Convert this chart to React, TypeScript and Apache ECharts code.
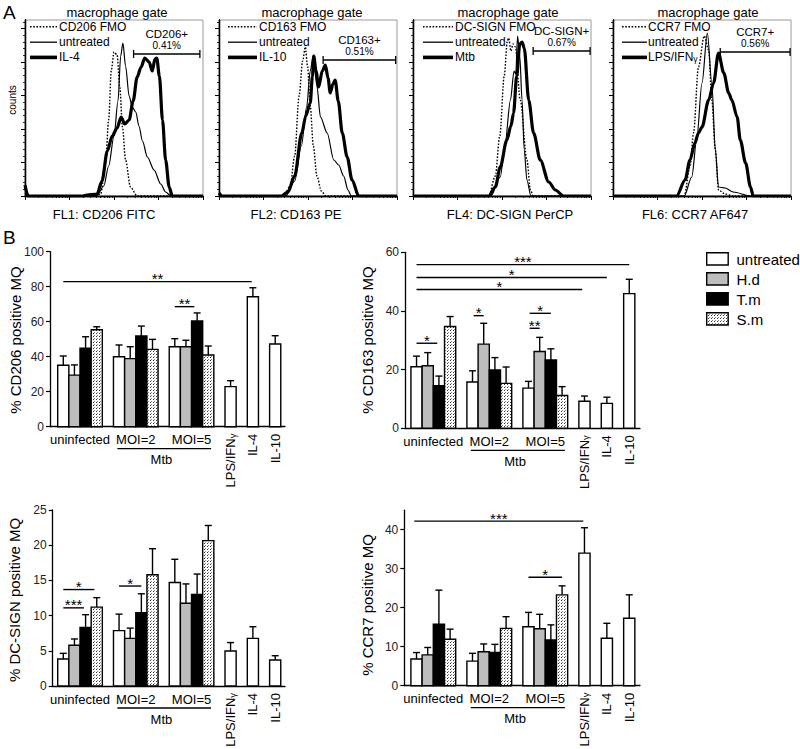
import React, { useEffect, useRef } from 'react';
import * as echarts from 'echarts';

const FONT = '"Liberation Sans", Arial, Helvetica, sans-serif';

// ---------------- Panel A : histograms ----------------
const histTitle = 'macrophage gate';
const histAxisNames = ['FL1: CD206 FITC', 'FL2: CD163 PE', 'FL4: DC-SIGN PerCP', 'FL6: CCR7 AF647'];
const histLegendNames = [
  ['CD206 FMO', 'untreated', 'IL-4'],
  ['CD163 FMO', 'untreated', 'IL-10'],
  ['DC-SIGN FMO', 'untreated', 'Mtb'],
  ['CCR7 FMO', 'untreated', 'LPS/IFNγ'],
];
const gateNames = ['CD206+', 'CD163+', 'DC-SIGN+', 'CCR7+'];
const gatePercents = ['0.41%', '0.51%', '0.67%', '0.56%'];
const gateStart = [2.44, 2.34, 2.7, 2.41];
const gateEnd = [3.93, 3.97, 3.98, 3.98];
const gateHeight = [142, 136, 145, 144];

// curves: [log decade, count]
const fmoCurves = [
  [[0, 0], [1.6, 0], [1.7, 2], [1.81, 32], [1.88, 76], [1.94, 126], [2.0, 144], [2.07, 141], [2.13, 109], [2.19, 69], [2.26, 36], [2.37, 9], [2.52, 0], [4, 0]],
  [[0, 0], [1.45, 0], [1.6, 10], [1.7, 40], [1.8, 100], [1.88, 135], [1.94, 149], [1.99, 130], [2.05, 90], [2.12, 50], [2.2, 20], [2.3, 5], [2.4, 0], [4, 0]],
  [[0, 0], [1.7, 0], [1.85, 20], [1.95, 60], [2.05, 120], [2.12, 155], [2.15, 158], [2.2, 145], [2.25, 152], [2.3, 149], [2.41, 96], [2.56, 36], [2.64, 6], [2.7, 0], [4, 0]],
  [[0, 0], [1.6, 0], [1.73, 29], [1.81, 63], [1.92, 129], [2.05, 160], [2.15, 146], [2.22, 96], [2.3, 46], [2.37, 6], [2.52, 2], [2.7, 0], [4, 0]],
];
const untreatedCurves = [
  [[0, 3], [0.08, 0], [1.45, 0], [1.62, 1], [1.77, 10], [1.88, 30], [2.0, 60], [2.09, 95], [2.15, 140], [2.2, 153], [2.26, 130], [2.34, 100], [2.41, 89], [2.49, 84], [2.56, 70], [2.64, 55], [2.75, 39], [2.9, 26], [3.05, 12], [3.16, 4], [3.28, 0], [4, 0]],
  [[0, 2], [0.07, 0], [1.5, 0], [1.7, 15], [1.85, 50], [1.97, 89], [2.05, 125], [2.12, 141], [2.2, 110], [2.28, 79], [2.43, 63], [2.58, 36], [2.69, 31], [2.8, 20], [2.9, 6], [2.97, 0], [4, 0]],
  [[0, 0], [1.75, 0], [1.96, 19], [2.07, 53], [2.19, 96], [2.27, 125], [2.31, 122], [2.35, 160], [2.4, 140], [2.45, 96], [2.5, 46], [2.56, 16], [2.65, 0], [4, 0]],
  [[0, 0], [1.6, 0], [1.77, 19], [1.88, 56], [2.0, 113], [2.12, 163], [2.22, 113], [2.3, 46], [2.37, 9], [2.52, 8], [2.7, 4], [3.09, 0], [4, 0]],
];
const stimCurves = [
  [[0, 11], [0.07, 0], [1.3, 0], [1.39, 1], [1.62, 2], [1.73, 15], [1.85, 45], [1.96, 60], [2.07, 68], [2.16, 79], [2.24, 72], [2.34, 76], [2.43, 95], [2.52, 119], [2.61, 129], [2.69, 138], [2.79, 134], [2.86, 125], [2.92, 137], [2.96, 138], [3.02, 120], [3.09, 76], [3.16, 36], [3.24, 9], [3.31, 0], [4, 0]],
  [[0, 3], [0.07, 0], [1.4, 0], [1.55, 4], [1.7, 20], [1.86, 63], [1.95, 80], [2.05, 93], [2.1, 120], [2.13, 140], [2.18, 125], [2.24, 109], [2.32, 125], [2.39, 131], [2.45, 118], [2.5, 103], [2.56, 112], [2.61, 116], [2.68, 95], [2.77, 63], [2.88, 39], [2.99, 16], [3.14, 0], [4, 0]],
  [[0, 0], [1.7, 0], [1.85, 9], [1.96, 29], [2.11, 56], [2.2, 70], [2.26, 83], [2.33, 120], [2.4, 152], [2.45, 154], [2.5, 148], [2.6, 96], [2.71, 63], [2.86, 36], [3.05, 14], [3.2, 6], [3.38, 0], [4, 0]],
  [[0, 0], [1.43, 0], [1.62, 16], [1.73, 36], [1.84, 53], [1.92, 63], [2.0, 69], [2.15, 96], [2.26, 113], [2.37, 143], [2.49, 123], [2.6, 103], [2.67, 96], [2.79, 79], [2.86, 56], [2.98, 33], [3.09, 9], [3.15, 0], [4, 0]],
];
const histYMajor = [0, 33.5, 67, 100.5, 134, 167.5];
const histXMajor = [0, 1, 2, 3, 4];

// ---------------- Panel B : bar charts ----------------
const groupNames = ['untreated', 'H.d', 'T.m', 'S.m'];
const barSlots = [0, 1, 2, 3, 5, 6, 7, 8, 10, 11, 12, 13, 15, 17, 19];
const barGroups = [0, 1, 2, 3, 0, 1, 2, 3, 0, 1, 2, 3, 0, 0, 0];
const conditionLabels = ['uninfected', 'MOI=2', 'MOI=5'];
const conditionSlots = [1.5, 6.5, 11.5];
const stimLabels = ['LPS/IFNγ', 'IL-4', 'IL-10'];
const stimSlots = [15, 17, 19];
const mtbLabel = 'Mtb';
const mtbSpan = [4.85, 13.25];
const mtbCenter = 8.8;

const cd206Means = [35.1, 29.5, 44.8, 55.4, 40.0, 38.9, 51.8, 44.2, 45.7, 45.7, 60.4, 41.0, 22.9, 74.3, 47.3];
const cd206Sem = [5.3, 5.8, 6.6, 1.7, 6.7, 6.8, 5.7, 5.7, 4.6, 3.7, 4.6, 5.1, 3.4, 5.1, 4.7];
const cd206Sig = [[0, 16.9, 82.9, '**'], [10, 11.75, 68.6, '**']];

const cd163Means = [21.0, 21.3, 14.5, 34.7, 15.8, 28.7, 19.9, 15.3, 13.7, 26.2, 23.3, 11.2, 9.2, 8.5, 45.9];
const cd163Sem = [3.6, 4.5, 3.3, 3.4, 3.8, 7.1, 4.2, 5.6, 2.3, 4.8, 3.8, 3.0, 1.8, 2.1, 4.9];
const cd163Sig = [[0, 19, 55.8, '***'], [0, 17, 51.4, '*'], [0, 14.8, 47.3, '*'], [0, 1.85, 29.0, '*'], [5.1, 6.0, 38.4, '*'], [10.1, 11.0, 34.1, '**'], [10.1, 12.0, 39.2, '*']];

const dcMeans = [3.84, 5.78, 8.33, 11.2, 7.86, 6.77, 10.4, 15.8, 14.7, 11.75, 13.0, 20.65, 4.97, 6.77, 3.7];
const dcSem = [0.8, 0.9, 1.8, 1.35, 2.35, 1.45, 2.7, 3.7, 3.3, 2.75, 2.9, 2.15, 1.2, 1.65, 0.6];
const dcSig = [[0, 2.78, 13.7, '*'], [0, 1.85, 11.1, '***'], [5, 7, 14.2, '*']];

const ccr7Means = [6.85, 7.9, 15.8, 11.9, 6.3, 8.7, 8.5, 14.7, 15.1, 14.6, 11.7, 23.3, 34.0, 12.15, 17.3];
const ccr7Sem = [1.65, 1.9, 8.7, 2.6, 2.0, 2.0, 2.1, 3.0, 3.7, 3.7, 3.9, 2.3, 6.5, 3.85, 6.0];
const ccr7Sig = [[-0.2, 14.9, 42.2, '***'], [10, 13, 27.8, '*']];

const cd206Ticks = [0, 20, 40, 60, 80, 100];
const cd163Ticks = [0, 20, 40, 60];
const dcTicks = [0, 5, 10, 15, 20, 25];
const ccr7Ticks = [0, 10, 20, 30, 40];

// ---------------- layout ----------------
const HIST_LEFT = [25, 219, 413, 613];
const HIST_TOP = 20;
const HIST_W = 178;
const HIST_H = 176;
const HIST_TITLE_X = [117, 312, 508, 708];
const HIST_NAME_X = [104, 296, 510, 695];
const HIST_LEG = [
  [30, 57, 59],
  [228, 257, 259],
  [423, 453, 455],
  [622, 647, 648],
];

const barPanels = [
  { means: cd206Means, sem: cd206Sem, sig: cd206Sig, ticks: cd206Ticks, yMax: 100, left: 50, top: 251.7, width: 235, height: 175, xMin: -1.19, xMax: 19.88, title: '% CD206 positive MQ', tx: 15, ty: 340 },
  { means: cd163Means, sem: cd163Sem, sig: cd163Sig, ticks: cd163Ticks, yMax: 60, left: 405, top: 252.3, width: 235, height: 176, xMin: -1.03, xMax: 19.96, title: '% CD163 positive MQ', tx: 367, ty: 340 },
  { means: dcMeans, sem: dcSem, sig: dcSig, ticks: dcTicks, yMax: 25, left: 52.7, top: 510, width: 232.3, height: 176, xMin: -0.95, xMax: 19.88, title: '% DC-SIGN positive MQ', tx: 14, ty: 600 },
  { means: ccr7Means, sem: ccr7Sem, sig: ccr7Sig, ticks: ccr7Ticks, yMax: 45, left: 404.3, top: 510.2, width: 235.7, height: 175.5, xMin: -1.09, xMax: 19.96, title: '% CCR7 positive MQ', tx: 367, ty: 605 },
];

function makeDotPattern(): any {
  const c = document.createElement('canvas');
  c.width = 3;
  c.height = 3;
  const ctx = c.getContext('2d')!;
  ctx.fillStyle = '#ffffff';
  ctx.fillRect(0, 0, 3, 3);
  ctx.fillStyle = '#333333';
  ctx.fillRect(0, 0, 1, 1);
  ctx.fillStyle = '#888888';
  ctx.fillRect(1, 2, 1, 1);
  return { image: c, repeat: 'repeat', imageWidth: 3, imageHeight: 3 };
}

function txt(x: number, y: number, text: string, size: number, align = 'center', vAlign = 'middle', rotation = 0, rich?: any) {
  return {
    type: 'text',
    x,
    y,
    rotation,
    silent: true,
    style: {
      text,
      font: `${size}px ${FONT}`,
      fill: '#000',
      align,
      verticalAlign: vAlign,
      textAlign: align,
      textVerticalAlign: vAlign,
      rich,
    },
  };
}

const gammaRich = (size: number) => ({ g: { fontSize: size * 0.72, fontFamily: FONT, padding: [4, 0, 0, 0] } });
const withGamma = (s: string) => s.replace('γ', '{g|γ}');

function buildOption() {
  const dots = makeDotPattern();
  const fills: any[] = ['#ffffff', '#bdbdbd', '#000000', dots];

  const grid: any[] = [];
  const xAxis: any[] = [];
  const yAxis: any[] = [];
  const series: any[] = [];
  const graphics: any[] = [];

  const minorX: number[] = [];
  for (let d = 0; d < 4; d++) for (let m = 2; m <= 9; m++) minorX.push(d + Math.log10(m));
  const minorY: number[] = [];
  for (let k = 0; k < histYMajor.length; k++) for (let m = 1; m <= 4; m++) {
    const v = histYMajor[k] + m * 6.7;
    if (v < HIST_H) minorY.push(v);
  }

  const axisLine = { show: true, onZero: false, lineStyle: { color: '#000', width: 1.3 } };

  for (let i = 0; i < 4; i++) {
    grid.push({ left: HIST_LEFT[i], top: HIST_TOP, width: HIST_W, height: HIST_H, show: true, borderColor: '#9a9a9a', borderWidth: 1 });
    xAxis.push({ type: 'value', gridIndex: i, min: 0, max: 4, position: 'bottom', axisLine, axisTick: { show: true, length: 4, customValues: histXMajor, lineStyle: { color: '#000', width: 1 } }, axisLabel: { show: false }, splitLine: { show: false } });
    xAxis.push({ type: 'value', gridIndex: i, min: 0, max: 4, position: 'bottom', axisLine, axisTick: { show: true, length: 2, customValues: minorX, lineStyle: { color: '#000', width: 0.8 } }, axisLabel: { show: false }, splitLine: { show: false } });
    yAxis.push({ type: 'value', gridIndex: i, min: 0, max: HIST_H, position: 'left', axisLine, axisTick: { show: true, length: 4, customValues: histYMajor, lineStyle: { color: '#000', width: 1 } }, axisLabel: { show: false }, splitLine: { show: false } });
    yAxis.push({ type: 'value', gridIndex: i, min: 0, max: HIST_H, position: 'left', axisLine, axisTick: { show: true, length: 2, customValues: minorY, lineStyle: { color: '#000', width: 0.8 } }, axisLabel: { show: false }, splitLine: { show: false } });

    const common = { type: 'line', xAxisIndex: 2 * i, yAxisIndex: 2 * i, showSymbol: false, symbol: 'none', smooth: 0.3, smoothMonotone: 'x', silent: true };
    series.push({ ...common, data: fmoCurves[i], lineStyle: { color: '#000', width: 1.4, type: [1.6, 1.6] } });
    series.push({ ...common, data: untreatedCurves[i], lineStyle: { color: '#000', width: 1.2 } });
    series.push({ ...common, data: stimCurves[i], lineStyle: { color: '#000', width: 3.2 } });

    series.push({
      type: 'custom', xAxisIndex: 2 * i, yAxisIndex: 2 * i, clip: false, silent: true,
      data: [[gateStart[i], gateEnd[i], gateHeight[i]]],
      renderItem: (params: any, api: any) => {
        const a = api.coord([api.value(0), api.value(2)]);
        const b = api.coord([api.value(1), api.value(2)]);
        const mid = (a[0] + b[0]) / 2;
        const ls = { stroke: '#000', lineWidth: 1.3 };
        return {
          type: 'group',
          children: [
            { type: 'line', shape: { x1: a[0], y1: a[1], x2: b[0], y2: b[1] }, style: ls },
            { type: 'line', shape: { x1: a[0], y1: a[1] - 4, x2: a[0], y2: a[1] + 4 }, style: ls },
            { type: 'line', shape: { x1: b[0], y1: b[1] - 4, x2: b[0], y2: b[1] + 4 }, style: ls },
            txt(mid, a[1] - 20, gateNames[i], 11.5),
            txt(mid, a[1] - 8.5, gatePercents[i], 10),
          ],
        };
      },
    });

    graphics.push(txt(HIST_TITLE_X[i], 12, histTitle, 13));
    graphics.push(txt(HIST_NAME_X[i], 214, histAxisNames[i], 13));
    const rowsY = [26.7, 42.2, 57.4];
    const widths = [1.5, 1.3, 3.6];
    for (let r = 0; r < 3; r++) {
      const [x1, x2, tx] = HIST_LEG[i];
      graphics.push({ type: 'line', silent: true, shape: { x1, y1: rowsY[r], x2, y2: rowsY[r] }, style: { stroke: '#000', lineWidth: widths[r], lineDash: r === 0 ? [1.6, 1.6] : null } });
      graphics.push(txt(tx, rowsY[r], withGamma(histLegendNames[i][r]), 12, 'left', 'middle', 0, gammaRich(12)));
    }
  }

  graphics.push(txt(3, 12, 'A', 19, 'left'));
  graphics.push(txt(3, 237, 'B', 19, 'left'));
  graphics.push(txt(12, 100, 'counts', 10, 'center', 'middle', Math.PI / 2));

  barPanels.forEach((p, j) => {
    const gi = 4 + j;
    const ai = 8 + j;
    grid.push({ left: p.left, top: p.top, width: p.width, height: p.height, show: false });
    xAxis.push({ type: 'value', gridIndex: gi, min: p.xMin, max: p.xMax, axisLine, axisTick: { show: false }, axisLabel: { show: false }, splitLine: { show: false } });
    yAxis.push({
      type: 'value', gridIndex: gi, min: 0, max: p.yMax, axisLine,
      axisTick: { show: true, length: 4, customValues: p.ticks, lineStyle: { color: '#000', width: 1.2 } },
      axisLabel: { show: true, customValues: p.ticks, fontSize: 12, fontFamily: FONT, color: '#222', margin: 6 },
      splitLine: { show: false },
    });

    series.push({
      type: 'custom', xAxisIndex: ai, yAxisIndex: ai, clip: false, silent: true,
      data: barSlots.map((s, i) => [s, p.means[i], p.sem[i], barGroups[i]]),
      renderItem: (params: any, api: any) => {
        const s = api.value(0), m = api.value(1), e = api.value(2), g = api.value(3);
        const tl = api.coord([s - 0.5, m]);
        const br = api.coord([s + 0.5, 0]);
        const c = api.coord([s, m]);
        const t = api.coord([s, m + e]);
        const ls = { stroke: '#000', lineWidth: 1.4 };
        return {
          type: 'group',
          children: [
            { type: 'line', shape: { x1: c[0], y1: c[1], x2: t[0], y2: t[1] }, style: ls },
            { type: 'line', shape: { x1: t[0] - 3.5, y1: t[1], x2: t[0] + 3.5, y2: t[1] }, style: ls },
            { type: 'rect', shape: { x: tl[0], y: tl[1], width: br[0] - tl[0], height: br[1] - tl[1] }, style: { fill: fills[g], stroke: '#000', lineWidth: 1.4 } },
          ],
        };
      },
    });

    series.push({
      type: 'custom', xAxisIndex: ai, yAxisIndex: ai, clip: false, silent: true,
      data: p.sig.map((s: any) => [s[0], s[2]]),
      renderItem: (params: any, api: any) => {
        const s: any = p.sig[params.dataIndex];
        const a = api.coord([s[0], s[2]]);
        const b = api.coord([s[1], s[2]]);
        return {
          type: 'group',
          children: [
            { type: 'line', shape: { x1: a[0], y1: a[1], x2: b[0], y2: b[1] }, style: { stroke: '#000', lineWidth: 1.4 } },
            txt((a[0] + b[0]) / 2, a[1] - 3, s[3], 15),
          ],
        };
      },
    });

    const labelItems: any[] = [];
    conditionLabels.forEach((l, k) => labelItems.push({ kind: 'g', slot: conditionSlots[k], text: l }));
    stimLabels.forEach((l, k) => labelItems.push({ kind: 'r', slot: stimSlots[k], text: l }));
    labelItems.push({ kind: 'l', slot: mtbSpan[0], slot2: mtbSpan[1], text: '' });
    labelItems.push({ kind: 'g2', slot: mtbCenter, text: mtbLabel });

    series.push({
      type: 'custom', xAxisIndex: ai, yAxisIndex: ai, clip: false, silent: true,
      data: labelItems.map((it) => [it.slot, 0]),
      renderItem: (params: any, api: any) => {
        const it = labelItems[params.dataIndex];
        const c = api.coord([it.slot, 0]);
        if (it.kind === 'g') return txt(c[0], c[1] + 13, it.text, 13);
        if (it.kind === 'g2') return txt(c[0], c[1] + 33, it.text, 13);
        if (it.kind === 'r') return txt(c[0], c[1] + 7, withGamma(it.text), 13, 'right', 'middle', Math.PI / 2, gammaRich(13));
        const d = api.coord([it.slot2, 0]);
        return { type: 'line', shape: { x1: c[0], y1: c[1] + 22, x2: d[0], y2: d[1] + 22 }, style: { stroke: '#000', lineWidth: 1.3 } };
      },
    });

    graphics.push(txt(p.tx, p.ty, p.title, 15, 'center', 'middle', Math.PI / 2));
  });

  // bar legend
  const legTop = [252.7, 272.7, 292.7, 312.7];
  groupNames.forEach((n, k) => {
    graphics.push({ type: 'rect', silent: true, shape: { x: 706.7, y: legTop[k], width: 21.5, height: 12.3 }, style: { fill: fills[k], stroke: '#000', lineWidth: 1.4 } });
    graphics.push(txt(736.5, legTop[k] + 6.3, n, 15, 'left'));
  });

  return {
    animation: false,
    backgroundColor: '#ffffff',
    textStyle: { fontFamily: FONT },
    grid,
    xAxis,
    yAxis,
    series,
    graphic: { elements: graphics },
  };
}

export default function App() {
  const ref = useRef<HTMLDivElement>(null);
  useEffect(() => {
    if (!ref.current) return;
    const chart = echarts.init(ref.current, undefined, { renderer: 'svg' });
    chart.setOption(buildOption() as any);
    return () => chart.dispose();
  }, []);
  return <div ref={ref} style={{ position: 'absolute', left: 0, top: 0, width: 800, height: 749, background: '#fff' }} />;
}
